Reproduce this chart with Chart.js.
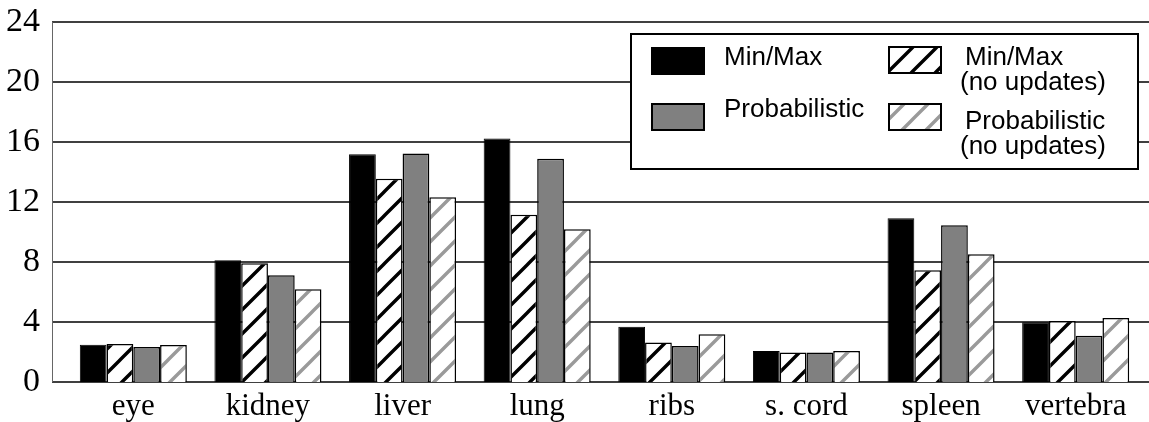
<!DOCTYPE html>
<html>
<head>
<meta charset="utf-8">
<script src="https://cdn.jsdelivr.net/npm/chart.js@4/dist/chart.umd.min.js"></script>
<style>
  html, body { margin: 0; padding: 0; background: #fff; }
  #wrap { width: 1149px; height: 422px; position: relative; }
</style>
</head>
<body>
<div id="wrap"><canvas id="chart"></canvas></div>
<script>
    "use strict";

    const categories = ["eye", "kidney", "liver", "lung", "ribs", "s. cord", "spleen", "vertebra"];
    const yTicks = [0, 4, 8, 12, 16, 20, 24];

    const minMax = [2.48, 8.12, 15.19, 16.23, 3.68, 2.06, 10.91, 3.99];
    const minMaxNoUpdates = [2.53, 7.92, 13.55, 11.15, 2.64, 1.97, 7.45, 4.06];
    const probabilistic = [2.33, 7.12, 15.24, 14.88, 2.40, 1.97, 10.45, 3.08];
    const probabilisticNoUpdates = [2.46, 6.19, 12.31, 10.18, 3.19, 2.06, 8.52, 4.26];

    const palette = {
        black: "#000000",
        gray: "#808080",
        stripeGray: "#9a9a9a",
        axis: "#666666"
    };

    function hatch(color) {
        const size = 24;
        const c = document.createElement("canvas");
        c.width = size;
        c.height = size;
        const g = c.getContext("2d");
        g.fillStyle = "#fff";
        g.fillRect(0, 0, size, size);
        g.strokeStyle = color;
        g.lineWidth = 3.4;
        g.beginPath();
        g.moveTo(-4, size + 4); g.lineTo(size + 4, -4);
        g.moveTo(-8, 8); g.lineTo(8, -8);
        g.moveTo(size - 8, size + 8); g.lineTo(size + 8, size - 8);
        g.stroke();
        return g.createPattern(c, "repeat");
    }

    const ctx = document.getElementById("chart").getContext("2d");
    const blackHatch = hatch(palette.black);
    const grayHatch = hatch(palette.stripeGray);

    // gridlines run from the axis line (left of the plot) to the page edge
    const gridPlugin = {
        id: "gridLines",
        beforeDatasetsDraw(chart) {
            const y = chart.scales.y;
            const c = chart.ctx;
            const left = chart.chartArea.left - 14;
            c.save();
            c.strokeStyle = palette.black;
            c.lineWidth = 1.3;
            y.ticks.forEach((t) => {
                const py = Math.round(y.getPixelForValue(t.value));
                c.beginPath();
                c.moveTo(left, py);
                c.lineTo(chart.width, py);
                c.stroke();
            });
            c.strokeStyle = palette.axis;
            c.lineWidth = 1;
            c.beginPath();
            c.moveTo(left + 0.5, Math.round(y.getPixelForValue(24)));
            c.lineTo(left + 0.5, Math.round(y.getPixelForValue(0)));
            c.stroke();
            c.restore();
        }
    };

    const legendPlugin = {
        id: "boxLegend",
        afterDraw(chart) {
            const c = chart.ctx;
            const ds = chart.data.datasets;
            c.save();
            c.fillStyle = "#fff";
            c.fillRect(631, 34, 507, 135);
            c.strokeStyle = palette.black;
            c.lineWidth = 2;
            c.strokeRect(631, 34, 507, 135);

            const slots = [
                { sx: 652, sy: 48, tx: 724, ty: [58] },
                { sx: 889, sy: 47, tx: [965, 960], ty: [58, 83] },
                { sx: 652, sy: 104, tx: 724, ty: [110] },
                { sx: 889, sy: 104, tx: [965, 960], ty: [122, 147] }
            ];
            c.font = "26px 'Liberation Sans', Arial, sans-serif";
            c.textBaseline = "middle";
            c.textAlign = "left";
            ds.forEach((d, i) => {
                const s = slots[i];
                c.fillStyle = d.backgroundColor;
                c.fillRect(s.sx, s.sy, 52, 26);
                c.strokeStyle = palette.black;
                c.lineWidth = 2;
                c.strokeRect(s.sx, s.sy, 52, 26);
                c.fillStyle = palette.black;
                d.label.forEach((line, k) => {
                    const tx = Array.isArray(s.tx) ? s.tx[k] : s.tx;
                    c.fillText(line, tx, s.ty[k]);
                });
            });
            c.restore();
        }
    };

    new Chart(ctx, {
        type: "bar",
        data: {
            labels: categories,
            datasets: [
                { label: ["Min/Max"], data: minMax, backgroundColor: palette.black, borderColor: palette.black, borderWidth: 1 },
                { label: ["Min/Max", "(no updates)"], data: minMaxNoUpdates, backgroundColor: blackHatch, borderColor: palette.black, borderWidth: 1.5 },
                { label: ["Probabilistic"], data: probabilistic, backgroundColor: palette.gray, borderColor: palette.black, borderWidth: 1.5 },
                { label: ["Probabilistic", "(no updates)"], data: probabilisticNoUpdates, backgroundColor: grayHatch, borderColor: palette.black, borderWidth: 1.5 }
            ]
        },
        options: {
            responsive: true,
            maintainAspectRatio: false,
            animation: false,
            devicePixelRatio: 1,
            layout: { padding: { top: 22, right: 6, left: 0, bottom: 0 } },
            datasets: { bar: { barPercentage: 1, categoryPercentage: 0.795, borderSkipped: "bottom" } },
            plugins: {
                legend: { display: false },
                tooltip: { enabled: false }
            },
            scales: {
                x: {
                    grid: { display: false, drawTicks: false },
                    border: { display: false },
                    ticks: {
                        color: palette.black,
                        padding: 6,
                        maxRotation: 0,
                        autoSkip: false,
                        font: { family: "'Liberation Serif', 'Times New Roman', serif", size: 31 }
                    },
                    afterFit(scale) { scale.height = 40; }
                },
                y: {
                    min: 0,
                    max: 24,
                    grid: { display: false, drawTicks: false },
                    border: { display: false },
                    afterBuildTicks(scale) { scale.ticks = yTicks.map((v) => ({ value: v })); },
                    ticks: {
                        color: palette.black,
                        padding: 26,
                        font: { family: "'Liberation Serif', 'Times New Roman', serif", size: 34 }
                    },
                    afterFit(scale) {
                        scale.width = 66;
                        scale.paddingTop = 0;
                        scale.paddingBottom = 0;
                    }
                }
            }
        },
        plugins: [gridPlugin, legendPlugin]
    });
</script>
</body>
</html>
